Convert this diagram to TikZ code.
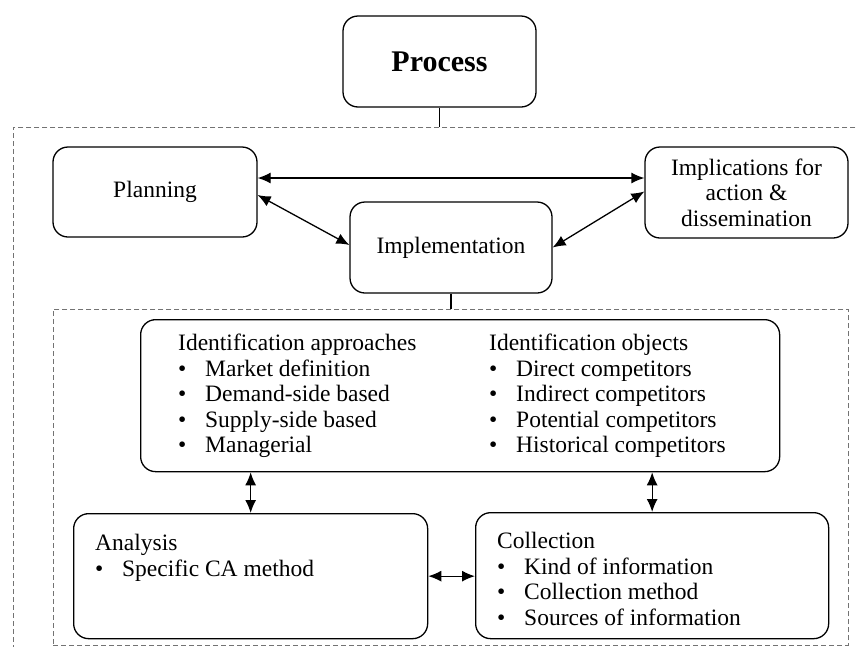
\documentclass[tikz,border=0pt]{standalone}
\usepackage{fontspec}
\setmainfont{Liberation Serif}
\usetikzlibrary{arrows.meta}
\usetikzlibrary{positioning}
\usetikzlibrary{calc}

\begin{document}
\begin{tikzpicture}[x=1pt, y=-1pt, >={Latex[length=13pt,width=11pt]},
    every node/.style={font=\fontsize{23.5}{25.5}\selectfont},
    box/.style={draw, rectangle, rounded corners=15pt, line width=1.3pt, inner sep=0pt},
    frame/.style={draw=black!55, dash pattern=on 5pt off 3pt, line width=0.7pt, inner sep=0pt},
    txt/.style={inner sep=0pt, align=left, anchor=north west}]
        \useasboundingbox (0,0) rectangle (856,646);
        \clip (0,0) rectangle (856,646);
        \newcommand{\itm}{\makebox[27pt][l]{\textbullet}}
        % Dashed frames
        \node[frame, minimum width=870pt, minimum height=550pt, anchor=north west] (outer) at (13,127) {};
        \node[frame, minimum width=795pt, minimum height=336pt, anchor=north west] (inner) at (53,309) {};
        % Process
        \node[box, minimum width=193pt, minimum height=91pt, font=\fontsize{30}{32}\selectfont\bfseries] (proc) at (439.5,61.5) {Process};
        \draw[line width=1.3pt] (proc.south) -- (proc.south |- outer.north);
        % Planning, implementation, implications
        \node[box, minimum width=204pt, minimum height=90pt] (plan) at (155,192) {Planning};
        \node[box, minimum width=203pt, minimum height=91pt, align=center] (impl) at (746.5,192.5) {Implications for\\action \&\\dissemination};
        \node[box, minimum width=202pt, minimum height=91pt] (impn) at (451,247.5) {Implementation};
        % Arrows between the three
        \draw[<->, line width=1.3pt] ([yshift=14pt]plan.east) -- ([yshift=14.5pt]impl.west);
        \draw[<->, line width=1.3pt] ([yshift=-3pt]plan.east) -- ([yshift=2.5pt]impn.west);
        \draw[<->, line width=1.3pt] (impn.east) -- ([yshift=1pt]impl.west);
        \draw[line width=1.3pt] (impn.south) -- (impn.south |- inner.north);
        % Identification
        \node[box, minimum width=639pt, minimum height=152pt, anchor=north west] (ident) at (140,319) {};
        \node[txt] (appr) at (178,334) {Identification approaches\\\itm Market definition\\\itm Demand-side based\\\itm Supply-side based\\\itm Managerial};
        \node[txt] (objs) at (489,334) {Identification objects\\\itm Direct competitors\\\itm Indirect competitors\\\itm Potential competitors\\\itm Historical competitors};
        % Analysis and collection
        \node[box, minimum width=354pt, minimum height=125pt, anchor=north west] (ana) at (73,513) {};
        \node[txt] (anatxt) at (95,534) {Analysis\\\itm Specific CA method};
        \node[box, minimum width=353pt, minimum height=126pt, anchor=north west] (coll) at (475,512) {};
        \node[txt] (colltxt) at (497,532) {Collection\\\itm Kind of information\\\itm Collection method\\\itm Sources of information};
        % Arrows
        \draw[<->, line width=1.3pt] (ident.south -| ana.north) -- (ana.north);
        \draw[<->, line width=1.3pt] (ident.south -| coll.north) -- (coll.north);
        \draw[<->, line width=1.3pt] (ana.east) -- (coll.west |- ana.east);
    \end{tikzpicture}
\end{document}
